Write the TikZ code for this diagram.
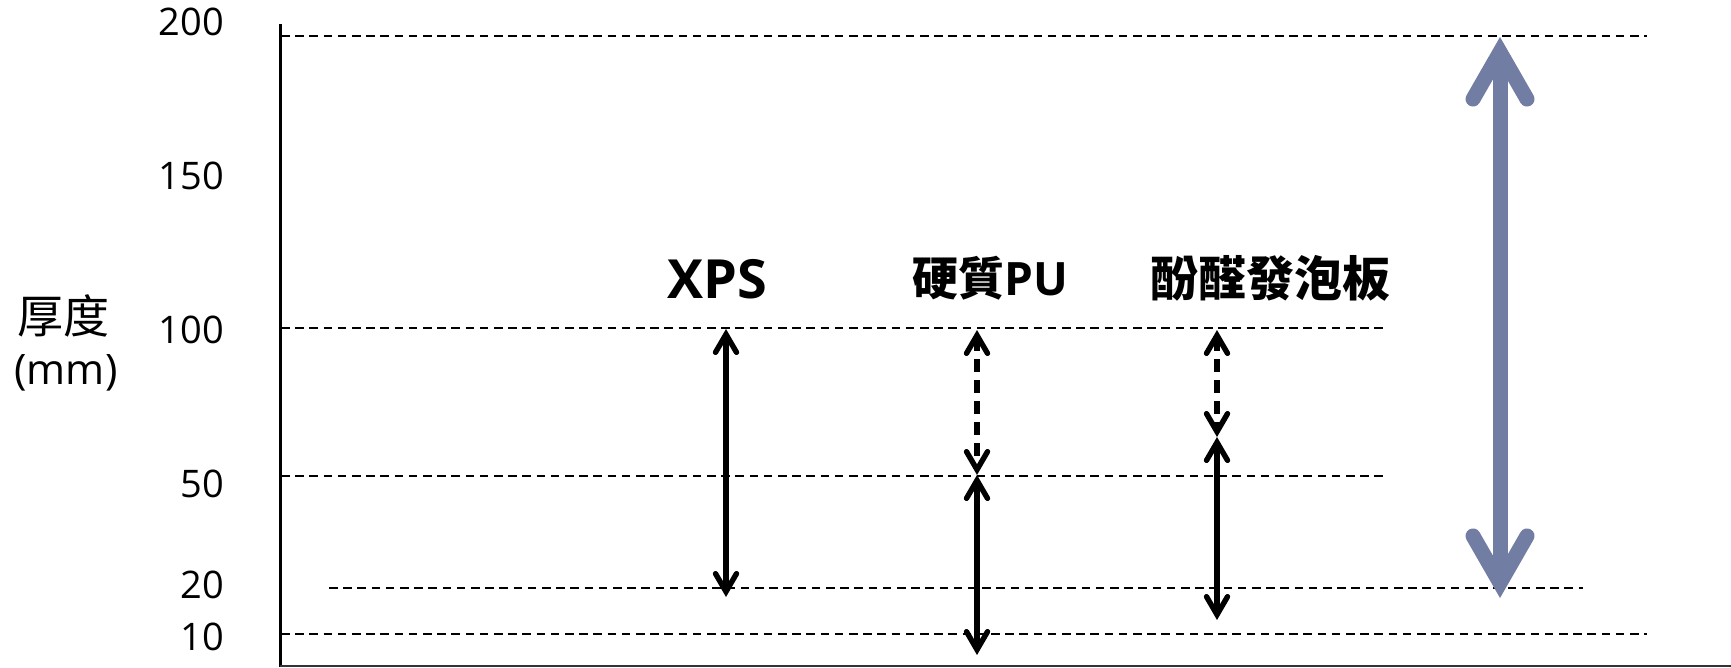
\documentclass[tikz,border=0pt]{standalone}
\usepackage{fontspec}
\setmainfont{Open Sans}
\newfontfamily\cjk{Noto Sans CJK TC}
\usetikzlibrary{arrows.meta}
\definecolor{slate}{RGB}{114,125,163}
\begin{document}
\begin{tikzpicture}[x=1pt,y=-1pt,
  guide/.style={line width=2.2pt, dash pattern=on 8.5pt off 5.7pt},
  axisline/.style={line width=3pt},
  tick/.style={anchor=east, inner sep=0pt, font=\fontsize{38}{40}\selectfont},
  lbl/.style={inner sep=0pt},
  blk/.style={line width=5.4pt, >={Straight Barb[length=18pt,width=21pt,line cap=round,line join=miter]}, <->},
  blkdash/.style={blk, dash pattern=on 13pt off 8pt},
  big/.style={color=slate, line width=15pt, >={Straight Barb[length=47pt,width=54pt,line cap=round,line join=miter]}, <->}
]
\useasboundingbox (0,0) rectangle (1731,667);
% axes
\coordinate (axtop) at (280,24);
\coordinate (axbot) at (280,667);
\coordinate (xaxl) at (280,666);
\coordinate (xaxr) at (1731,666);
\draw[axisline] (axtop) -- (axbot);
\draw[line width=2.5pt, black!80] (xaxl) -- (xaxr);
% guide lines
\coordinate (g200a) at (281,36); \coordinate (g200b) at (1647,36);
\coordinate (g100a) at (281,328); \coordinate (g100b) at (1387,328);
\coordinate (g50a) at (281,476); \coordinate (g50b) at (1387,476);
\coordinate (g20a) at (329,588); \coordinate (g20b) at (1583,588);
\coordinate (g10a) at (281,634); \coordinate (g10b) at (1647,634);
\draw[guide] (g200a) -- (g200b);
\draw[guide] (g100a) -- (g100b);
\draw[guide] (g50a) -- (g50b);
\draw[guide] (g20a) -- (g20b);
\draw[guide] (g10a) -- (g10b);
% tick labels
\node[tick] (t200) at (224,22) {200};
\node[tick] (t150) at (224,176) {150};
\node[tick] (t100) at (224,330) {100};
\node[tick] (t50) at (224,484) {50};
\node[tick] (t20) at (224,585) {20};
\node[tick] (t10) at (224,637) {10};
% axis title
\node[lbl, font=\fontsize{46}{50}\selectfont\cjk] (ytitle1) at (63,316) {厚度};
\node[lbl, font=\fontsize{42}{46}\selectfont] (ytitle2) at (66,373) {(mm)};
% column labels
\node[lbl, font=\fontsize{54}{58}\selectfont\bfseries] (xps) at (717,279) {XPS};
\node[lbl, font=\fontsize{46}{50}\selectfont\bfseries] (pu) at (990,278) {{\cjk 硬質}PU};
\node[lbl, font=\fontsize{48}{52}\selectfont\bfseries\cjk] (pf) at (1270,278) {酚醛發泡板};
% arrows
\coordinate (xpsT) at (726,329); \coordinate (xpsB) at (726,597);
\coordinate (puT) at (977,330); \coordinate (puM) at (977,475); \coordinate (puB) at (977,655);
\coordinate (pfT) at (1217,330); \coordinate (pfM) at (1217,437); \coordinate (pfB) at (1217,620);
\coordinate (bigT) at (1500,37); \coordinate (bigB) at (1500,598);
\draw[blk] (xpsT) -- (xpsB);
\draw[blkdash] (puT) -- (puM);
\draw[blk] (puM) -- (puB);
\draw[blkdash] (pfT) -- (pfM);
\draw[blk] (pfM) -- (pfB);
\draw[big] (bigT) -- (bigB);
\end{tikzpicture}
\end{document}
